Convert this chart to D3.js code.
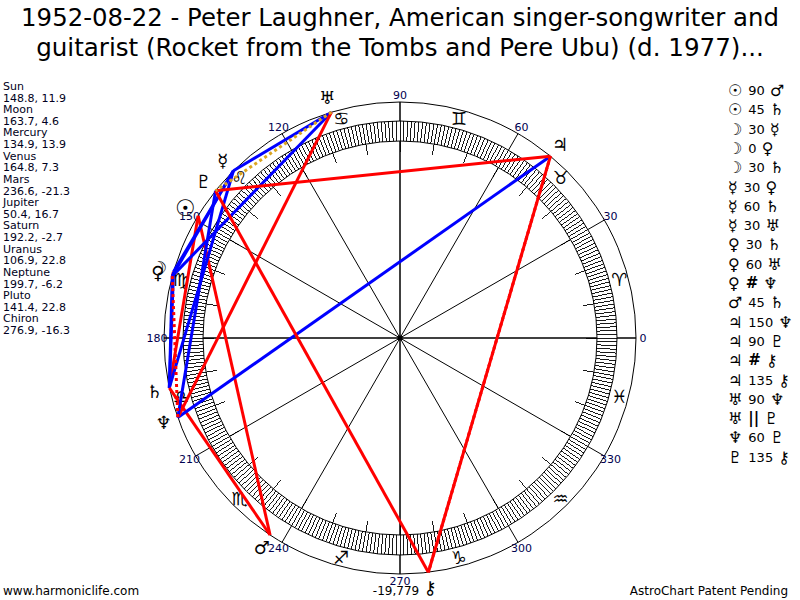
<!DOCTYPE html>
<html>
<head>
<meta charset="utf-8">
<script src="https://cdn.jsdelivr.net/npm/d3@7"></script>
<style>
  body { margin: 0; background: #fff; }
  text { font-family: "DejaVu Sans", Verdana, sans-serif; }
</style>
</head>
<body>
<div id="chart"></div>
<script>
// Chart data
const TITLE = [
    "1952-08-22 - Peter Laughner, American singer-songwriter and",
    "guitarist (Rocket from the Tombs and Pere Ubu) (d. 1977)..."
];
const PLANETS = ["Sun", "Moon", "Mercury", "Venus", "Mars", "Jupiter", "Saturn", "Uranus", "Neptune", "Pluto", "Chiron"];
const GLYPHS = ["\u2609", "\u263D", "\u263F", "\u2640", "\u2642", "\u2643", "\u2644", "\u2645", "\u2646", "\u2647", "\u26B7"];
const LONGITUDE = [148.8, 163.7, 134.9, 164.8, 236.6, 50.4, 192.2, 106.9, 199.7, 141.4, 276.9];
const DECLINATION = [11.9, 4.6, 13.9, 7.3, -21.3, 16.7, -2.7, 22.8, -6.2, 22.8, -16.3];
const SIGNS = ["\u2648", "\u2649", "\u264A", "\u264B", "\u264C", "\u264D", "\u264E", "\u264F", "\u2650", "\u2651", "\u2652", "\u2653"];
const DEGREE_LABELS = [0, 30, 60, 90, 120, 150, 180, 210, 240, 270, 300, 330];
// aspects: [planet A, aspect, planet B]
const ASPECTS = [
    ["Sun", "90", "Mars"],
    ["Sun", "45", "Saturn"],
    ["Moon", "30", "Mercury"],
    ["Moon", "0", "Venus"],
    ["Moon", "30", "Saturn"],
    ["Mercury", "30", "Venus"],
    ["Mercury", "60", "Saturn"],
    ["Mercury", "30", "Uranus"],
    ["Venus", "30", "Saturn"],
    ["Venus", "60", "Uranus"],
    ["Venus", "#", "Neptune"],
    ["Mars", "45", "Saturn"],
    ["Jupiter", "150", "Neptune"],
    ["Jupiter", "90", "Pluto"],
    ["Jupiter", "#", "Chiron"],
    ["Jupiter", "135", "Chiron"],
    ["Uranus", "90", "Neptune"],
    ["Uranus", "||", "Pluto"],
    ["Neptune", "60", "Pluto"],
    ["Pluto", "135", "Chiron"]
];
const FOOTER_LEFT = "www.harmoniclife.com";
const FOOTER_RIGHT = "AstroChart Patent Pending";
const BOTTOM_NOTE = "-19,779";

// Layout
const WIDTH = 800;
const HEIGHT = 600;
const CX = 400;
const CY = 338;
const R_OUTER = 236;
const R_RING_OUT = 217;
const R_RING_IN = 197;
const R_TICK10 = 186;
const R_LABEL = 243;
const R_SIGN = 227;
const R_GLYPH = 251;

const ASPECT_STYLE = {
    "0":   { stroke: "#ff0000", dash: null },
    "30":  { stroke: "#0000ff", dash: null },
    "60":  { stroke: "#0000ff", dash: null },
    "150": { stroke: "#0000ff", dash: null },
    "45":  { stroke: "#ff0000", dash: null },
    "90":  { stroke: "#ff0000", dash: null },
    "135": { stroke: "#ff0000", dash: null },
    "#":   { stroke: "#ff0000", dash: "3,3" },
    "||":  { stroke: "#daa520", dash: "3,3" }
};

// ecliptic degrees -> d3.pointRadial angle (0 at right, counter-clockwise)
const angle = d3.scaleLinear().domain([0, 360]).range([Math.PI / 2, Math.PI / 2 - 2 * Math.PI]);
const pt = (lon, r) => {
    const p = d3.pointRadial(angle(lon), r);
    return [CX + p[0], CY + p[1]];
};
const lonOf = name => LONGITUDE[PLANETS.indexOf(name)];
const glyphOf = name => GLYPHS[PLANETS.indexOf(name)];

const svg = d3.select("#chart").append("svg")
    .attr("width", WIDTH)
    .attr("height", HEIGHT)
    .attr("viewBox", [0, 0, WIDTH, HEIGHT]);

// Title, fitted to the reference width
const titleWidths = [758, 728];
TITLE.forEach(function(line, i) {
    const t = svg.append("text")
        .attr("x", WIDTH / 2)
        .attr("y", 26 + i * 30)
        .attr("text-anchor", "middle")
        .style("font-size", "23px")
        .style("fill", "#000")
        .text(line);
    const w = t.node().getComputedTextLength();
    if (w > 0) t.style("font-size", (23 * titleWidths[i] / w).toFixed(2) + "px");
});

// Spokes every 30 degrees
svg.append("g").selectAll("line")
    .data(DEGREE_LABELS)
    .join("line")
    .attr("x1", CX).attr("y1", CY)
    .attr("x2", d => pt(d, R_OUTER)[0])
    .attr("y2", d => pt(d, R_OUTER)[1])
    .style("stroke", "#000")
    .style("stroke-width", d => d % 90 === 0 ? 1.5 : 1);

// Zodiac ring: white band with degree ticks
svg.append("path")
    .attr("transform", `translate(${CX},${CY})`)
    .attr("d", d3.arc().innerRadius(R_RING_IN).outerRadius(R_RING_OUT).startAngle(0).endAngle(2 * Math.PI)())
    .style("fill", "#fff")
    .style("stroke", "#000")
    .style("stroke-width", 1);

svg.append("g").selectAll("line")
    .data(d3.range(0, 360, 1))
    .join("line")
    .attr("x1", d => pt(d, d % 10 === 0 ? R_TICK10 : R_RING_IN)[0])
    .attr("y1", d => pt(d, d % 10 === 0 ? R_TICK10 : R_RING_IN)[1])
    .attr("x2", d => pt(d, R_RING_OUT)[0])
    .attr("y2", d => pt(d, R_RING_OUT)[1])
    .style("stroke", "#000")
    .style("stroke-width", 0.9)
    .style("shape-rendering", "crispEdges");

// Outer circle
svg.append("circle")
    .attr("cx", CX).attr("cy", CY).attr("r", R_OUTER)
    .style("fill", "none")
    .style("stroke", "#000")
    .style("stroke-width", 1);

// Center dot
svg.append("circle")
    .attr("cx", CX).attr("cy", CY).attr("r", 2.5)
    .style("fill", "#000");

// Sign glyphs
svg.append("g").selectAll("text")
    .data(SIGNS)
    .join("text")
    .attr("x", (d, i) => pt(i * 30 + 15, R_SIGN)[0])
    .attr("y", (d, i) => pt(i * 30 + 15, R_SIGN)[1])
    .attr("text-anchor", "middle")
    .attr("dominant-baseline", "central")
    .style("font-size", "18px")
    .style("fill", "#000")
    .text(d => d);

// Degree labels
svg.append("g").selectAll("text")
    .data(DEGREE_LABELS)
    .join("text")
    .attr("x", d => pt(d, R_LABEL)[0])
    .attr("y", d => pt(d, R_LABEL)[1])
    .attr("text-anchor", "middle")
    .attr("dominant-baseline", "central")
    .style("font-size", "11px")
    .style("fill", "#000050")
    .text(d => d);

// Aspect lines (drawn solid first, dotted over them)
const aspectOrder = ASPECTS.slice().sort((a, b) =>
    (ASPECT_STYLE[a[1]].dash ? 1 : 0) - (ASPECT_STYLE[b[1]].dash ? 1 : 0));
svg.append("g").selectAll("line")
    .data(aspectOrder)
    .join("line")
    .attr("x1", d => pt(lonOf(d[0]), R_OUTER)[0])
    .attr("y1", d => pt(lonOf(d[0]), R_OUTER)[1])
    .attr("x2", d => pt(lonOf(d[2]), R_OUTER)[0])
    .attr("y2", d => pt(lonOf(d[2]), R_OUTER)[1])
    .style("stroke", d => ASPECT_STYLE[d[1]].stroke)
    .style("stroke-width", 3)
    .style("stroke-dasharray", d => ASPECT_STYLE[d[1]].dash);

// Planet glyphs outside the wheel
svg.append("g").selectAll("text")
    .data(PLANETS)
    .join("text")
    .attr("x", (d, i) => pt(LONGITUDE[i], R_GLYPH)[0])
    .attr("y", (d, i) => pt(LONGITUDE[i], R_GLYPH)[1])
    .attr("text-anchor", "middle")
    .attr("dominant-baseline", "central")
    .style("font-size", (d, i) => i === 0 ? "23px" : "18px")
    .style("font-weight", (d, i) => i === 0 ? "bold" : "normal")
    .style("fill", "#000")
    .text((d, i) => GLYPHS[i]);

// Chiron note under the 270 label
svg.append("text")
    .attr("x", 396)
    .attr("y", 595)
    .attr("text-anchor", "middle")
    .style("font-size", "12px")
    .style("fill", "#000")
    .text(BOTTOM_NOTE);

// Left list: planet, longitude, declination
const left = svg.append("g");
PLANETS.forEach(function(name, i) {
    left.append("text")
        .attr("x", 3).attr("y", 90 + i * 2 * 11.62)
        .style("font-size", "11px").style("fill", "#000020")
        .text(name);
    left.append("text")
        .attr("x", 3).attr("y", 90 + (i * 2 + 1) * 11.62)
        .style("font-size", "11px").style("fill", "#000020")
        .text(`${LONGITUDE[i]}, ${DECLINATION[i]}`);
});

// Right list: aspects
const right = svg.append("g");
ASPECTS.forEach(function(a, i) {
    const y = 90 + i * 19.3;
    const t = right.append("text")
        .attr("x", 728).attr("y", y)
        .attr("dominant-baseline", "central")
        .style("fill", "#000");
    t.append("tspan")
        .style("font-size", "16px")
        .style("font-weight", a[0] === "Sun" ? "bold" : "normal")
        .text(glyphOf(a[0]));
    t.append("tspan")
        .style("font-size", a[1] === "#" || a[1] === "||" ? "15px" : "13px")
        .style("font-weight", a[1] === "#" || a[1] === "||" ? "bold" : "normal")
        .attr("dx", 6)
        .text(a[1]);
    t.append("tspan")
        .style("font-size", "16px")
        .attr("dx", 5)
        .text(glyphOf(a[2]));
});

// Footer
svg.append("text")
    .attr("x", 3).attr("y", 595)
    .style("font-size", "12px").style("fill", "#000")
    .text(FOOTER_LEFT);
svg.append("text")
    .attr("x", 788).attr("y", 595)
    .attr("text-anchor", "end")
    .style("font-size", "12px").style("fill", "#000")
    .text(FOOTER_RIGHT);
</script>
</body>
</html>
